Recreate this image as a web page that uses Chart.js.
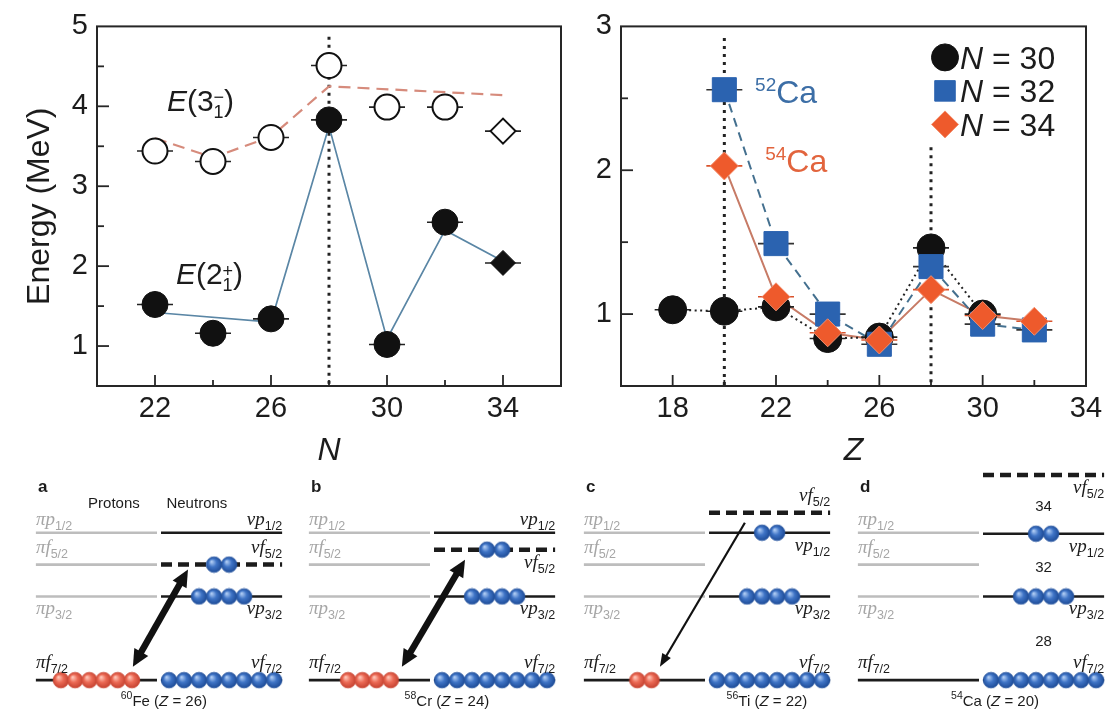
<!DOCTYPE html>
<html>
<head>
<meta charset="utf-8">
<title>Excitation energies and neutron orbitals near 54Ca</title>
<script src="https://cdn.jsdelivr.net/npm/chart.js@4.4.1/dist/chart.umd.min.js"></script>
<style>
  html, body { margin: 0; padding: 0; background: #fff; }
  #figure { position: relative; width: 1109px; height: 721px; overflow: hidden; background: #fff; }
  #figure canvas { position: absolute; }
</style>
</head>
<body>
<div id="figure">
  <canvas id="energyVsN" width="570" height="470" style="left:0;top:0"></canvas>
  <canvas id="energyVsZ" width="549" height="470" style="left:560px;top:0"></canvas>
  <canvas id="levelsA" width="287" height="251" style="left:0;top:470px"></canvas>
  <canvas id="levelsB" width="287" height="251" style="left:273px;top:470px"></canvas>
  <canvas id="levelsC" width="287" height="251" style="left:548px;top:470px"></canvas>
  <canvas id="levelsD" width="287" height="251" style="left:822px;top:470px"></canvas>
</div>
<script>
// ---------- Ca isotopes: first 2+ and 3- energies (MeV) versus neutron number ----------
const caN     = [22, 24, 26, 28, 30, 32];
const caE2    = [1.52, 1.16, 1.34, 3.83, 1.02, 2.55];
const caE3    = [3.44, 3.31, 3.61, 4.51, 3.99, 3.99];
const ca54N   = [34];
const ca54E2  = [2.04];
const ca54E3  = [3.69];
const calcE2N = [22, 26, 28, 30, 32, 34];
const calcE2  = [1.42, 1.30, 3.75, 1.09, 2.45, 2.06];
const calcE3N = [22, 24, 26, 28, 34];
const calcE3  = [3.60, 3.36, 3.62, 4.25, 4.14];
const nTickLabels  = [22, 26, 30, 34];
const eTickLabelsN = [1, 2, 3, 4, 5];
const magicN = [28];

// ---------- first 2+ energies (MeV) versus proton number for N = 30, 32, 34 ----------
const zN30 = [18, 20, 22, 24, 26, 28, 30];
const eN30 = [1.03, 1.02, 1.05, 0.83, 0.84, 1.46, 1.00];
const zN32 = [20, 22, 24, 26, 28, 30, 32];
const eN32 = [2.56, 1.49, 1.00, 0.79, 1.33, 0.93, 0.89];
const zN34 = [20, 22, 24, 26, 28, 30, 32];
const eN34 = [2.03, 1.12, 0.87, 0.82, 1.17, 0.99, 0.95];
const zTickLabels  = [18, 22, 26, 30, 34];
const eTickLabelsZ = [1, 2, 3];
const magicZ = [20, 28];

// ---------- single-particle level schemes ----------
const panelLetters  = ['a', 'b', 'c', 'd'];
const massNumbers   = [60, 58, 56, 54];
const elementNames  = ['Fe', 'Cr', 'Ti', 'Ca'];
const protonNumbers = [26, 24, 22, 20];
const piOrbitals = ['p1/2', 'f5/2', 'p3/2', 'f7/2'];
const piEnergies = [14.8, 11.6, 8.4, 0];
const piF72Count = [6, 4, 2, 0];
const nuP12E = [14.8, 14.8, 14.8, 14.7];
const nuF52E = [11.6, 13.1, 16.8, 20.6];
const nuP32E = [8.4, 8.4, 8.4, 8.4];
const nuF72E = [0, 0, 0, 0];
const nuP12Count = [0, 0, 2, 2];
const nuF52Count = [2, 2, 0, 0];
const nuP32Count = [4, 4, 4, 4];
const nuF72Count = [8, 8, 8, 8];
const shellGaps = [28, 32, 34];

// ---------- look ----------
const SANS  = '"Liberation Sans", Arial, Helvetica, sans-serif';
const SERIF = '"Liberation Serif", "Times New Roman", serif';
const INK = '#1c1c1c';
const GREY = '#bdbdbd';
Chart.defaults.font.family = SANS;
Chart.defaults.color = INK;
Chart.defaults.animation = false;

const xy = (xs, ys) => xs.map((x, i) => ({ x, y: ys[i] }));

// draws a row of text pieces (with optional stacked super/subscripts)
function drawRuns(ctx, x, y, runs, align, color) {
  const widthOf = r => {
    const parts = r.stack || [r];
    return Math.max(...parts.map(s => { ctx.font = s.font; return ctx.measureText(s.t).width; }));
  };
  const widths = runs.map(widthOf);
  const total = widths.reduce((a, b) => a + b, 0);
  let cx = align === 'right' ? x - total : align === 'center' ? x - total / 2 : x;
  ctx.textAlign = 'left';
  ctx.textBaseline = 'alphabetic';
  runs.forEach((r, i) => {
    (r.stack || [r]).forEach(s => {
      ctx.font = s.font;
      ctx.fillStyle = s.color || r.color || color || INK;
      ctx.fillText(s.t, cx, y + (s.dy || 0));
    });
    cx += widths[i];
  });
}

// closed frame with inward tick marks
const boxTicks = {
  id: 'boxTicks',
  beforeDatasetsDraw(chart) {
    const { ctx, chartArea: a } = chart;
    const sx = chart.scales.x, sy = chart.scales.y;
    ctx.save();
    ctx.strokeStyle = '#262626';
    ctx.lineWidth = 2;
    ctx.strokeRect(a.left, a.top, a.right - a.left, a.bottom - a.top);
    ctx.lineWidth = 1.8;
    sx.ticks.forEach(t => {
      if (t.value <= sx.min || t.value >= sx.max) return;
      const p = sx.getPixelForValue(t.value);
      const len = t.label === '' ? 6 : 11;
      ctx.beginPath(); ctx.moveTo(p, a.bottom); ctx.lineTo(p, a.bottom - len); ctx.stroke();
    });
    sy.ticks.forEach(t => {
      if (t.value <= sy.min || t.value >= sy.max) return;
      const p = sy.getPixelForValue(t.value);
      const len = t.label === '' ? 7 : 12;
      ctx.beginPath(); ctx.moveTo(a.left, p); ctx.lineTo(a.left + len, p); ctx.stroke();
    });
    ctx.restore();
  }
};

function axisX(min, max, labels, title, height) {
  return {
    type: 'linear', min, max,
    afterFit: s => { s.height = height; },
    grid: { display: false, drawTicks: false }, border: { display: false },
    ticks: { stepSize: 2, autoSkip: false, maxRotation: 0, padding: 6, font: { size: 29 },
             color: INK, callback: v => labels.includes(v) ? String(v) : '' },
    title: { display: true, text: title, color: INK, font: { size: 32, style: 'italic' }, padding: { top: 0, bottom: 0 } }
  };
}
function axisY(min, max, labels, width, title) {
  return {
    type: 'linear', min, max,
    afterFit: s => { s.width = width; },
    grid: { display: false, drawTicks: false }, border: { display: false },
    ticks: { stepSize: 0.5, autoSkip: false, padding: 9, font: { size: 29 }, color: INK,
             callback: v => labels.includes(v) ? String(v) : '' },
    title: title ? { display: true, text: title, color: INK, font: { size: 32 }, padding: { top: 21, bottom: 0 } }
                 : { display: false }
  };
}

const refLine = (x, top, bottom) => ({
  data: [{ x, y: top }, { x, y: bottom }], showLine: true, pointRadius: 0,
  borderColor: '#222', borderWidth: 3, borderDash: [3, 5], order: 12
});
const curve = (data, color, width, dash) => ({
  data, showLine: true, pointRadius: 0, borderColor: color, borderWidth: width,
  borderDash: dash || [], order: 10
});
const bars = (data, color) => ({
  data, showLine: false, pointStyle: 'line', pointRadius: 18,
  pointBorderColor: color, pointBorderWidth: 1.6, order: 5
});
const marks = (data, style, r, fill, edge, w, order) => ({
  data, showLine: false, pointStyle: style, pointRadius: r,
  pointBackgroundColor: fill, pointBorderColor: edge, pointBorderWidth: w, order
});

const baseOptions = (padding) => ({
  responsive: false, devicePixelRatio: 1, animation: false, events: [],
  layout: { padding, autoPadding: false },
  plugins: { legend: { display: false }, tooltip: { enabled: false } }
});

// ---------- left panel ----------
const annotateN = {
  id: 'annotateN',
  afterDatasetsDraw(chart) {
    const { ctx } = chart, sx = chart.scales.x, sy = chart.scales.y;
    ctx.save();
    const big = `30px ${SANS}`, it = `italic 30px ${SANS}`, small = `18px ${SANS}`;
    drawRuns(ctx, sx.getPixelForValue(22.41), sy.getPixelForValue(3.94), [
      { t: 'E', font: it }, { t: '(3', font: big },
      { stack: [{ t: '\u2212', font: small, dy: -8 }, { t: '1', font: small, dy: 7 }] },
      { t: ')', font: big }], 'left');
    drawRuns(ctx, sx.getPixelForValue(22.72), sy.getPixelForValue(1.78), [
      { t: 'E', font: it }, { t: '(2', font: big },
      { stack: [{ t: '+', font: small, dy: -7 }, { t: '1', font: small, dy: 7 }] },
      { t: ')', font: big }], 'left');
    ctx.restore();
  }
};

new Chart(document.getElementById('energyVsN'), {
  type: 'scatter',
  data: {
    datasets: [
      refLine(magicN[0], 4.87, 0.5),
      curve(xy(calcE3N, calcE3), '#d68b7c', 2.2, [12, 7]),
      curve(xy(calcE2N, calcE2), '#5a86a5', 1.7),
      bars(xy(caN, caE2), '#222'),
      bars(xy(caN, caE3), '#222'),
      bars(xy(ca54N, ca54E2), '#222'),
      bars(xy(ca54N, ca54E3), '#222'),
      marks(xy(caN, caE3), 'circle', 12.5, '#fff', '#111', 2, 1),
      marks(xy(caN, caE2), 'circle', 13, '#111', '#111', 1, 0),
      marks(xy(ca54N, ca54E3), 'rectRot', 12.5, '#fff', '#111', 2, 1),
      marks(xy(ca54N, ca54E2), 'rectRot', 12.5, '#111', '#111', 1, 0)
    ]
  },
  options: Object.assign(baseOptions({ left: 0, top: 19, right: 9, bottom: 0 }), {
    scales: {
      x: axisX(20, 36, nTickLabels, 'N', 84),
      y: axisY(0.5, 5, eTickLabelsN, 97, 'Energy (MeV)')
    }
  }),
  plugins: [boxTicks, annotateN]
});

// ---------- right panel ----------
const annotateZ = {
  id: 'annotateZ',
  afterDatasetsDraw(chart) {
    const { ctx, chartArea: a } = chart, sx = chart.scales.x, sy = chart.scales.y;
    ctx.save();
    drawRuns(ctx, sx.getPixelForValue(21.19), sy.getPixelForValue(2.47), [
      { t: '52', font: `19px ${SANS}`, dy: -12 }, { t: 'Ca', font: `32px ${SANS}` }], 'left', '#3c6ea6');
    drawRuns(ctx, sx.getPixelForValue(21.58), sy.getPixelForValue(1.99), [
      { t: '54', font: `19px ${SANS}`, dy: -12 }, { t: 'Ca', font: `32px ${SANS}` }], 'left', '#e2643d');
    // legend
    chart.data.datasets.filter(d => d.legendText).forEach((d, i) => {
      const cx = a.right - 141, cy = a.top + 31 + i * 33.5;
      ctx.fillStyle = d.pointBackgroundColor;
      ctx.strokeStyle = d.pointBorderColor;
      ctx.lineWidth = 1;
      Chart.helpers.drawPoint(ctx, { pointStyle: d.pointStyle, rotation: 0, radius: d.legendRadius, borderWidth: 1 }, cx, cy);
      drawRuns(ctx, cx + 15, cy + 11.5, [
        { t: 'N', font: `italic 32px ${SANS}` }, { t: ' = ' + d.legendText, font: `32px ${SANS}` }], 'left', INK);
    });
    ctx.restore();
  }
};

const n30 = Object.assign(marks(xy(zN30, eN30), 'circle', 14, '#111', '#111', 1, 2), { legendText: '30', legendRadius: 13.5 });
const n32 = Object.assign(marks(xy(zN32, eN32), 'rect', 17, '#2b63b0', '#2b63b0', 1, 1), { legendText: '32', legendRadius: 14.5 });
const n34 = Object.assign(marks(xy(zN34, eN34), 'rectRot', 14, '#ee5a2c', '#f39070', 1, 0), { legendText: '34', legendRadius: 13.5 });

new Chart(document.getElementById('energyVsZ'), {
  type: 'scatter',
  data: {
    datasets: [
      refLine(magicZ[0], 2.92, 0.5),
      refLine(magicZ[1], 2.16, 0.5),
      curve(xy(zN30, eN30), '#222', 2, [2, 3.5]),
      curve(xy(zN32, eN32), '#44708f', 2, [9, 6]),
      curve(xy(zN34, eN34), '#c77b66', 2),
      bars(xy(zN30, eN30), '#222'),
      bars(xy(zN32, eN32), '#333'),
      bars(xy(zN34, eN34), '#d9532c'),
      n30, n32, n34
    ]
  },
  options: Object.assign(baseOptions({ left: 0, top: 19, right: 23, bottom: 0 }), {
    scales: {
      x: axisX(16, 34, zTickLabels, 'Z', 84),
      y: axisY(0.5, 3, eTickLabelsZ, 61, null)
    }
  }),
  plugins: [boxTicks, annotateZ]
});

// ---------- level schemes ----------
const SPAN_PI = [0.125, 0.547];
const SPAN_NU = [0.561, 0.983];
const PITCH_PI = 0.0495, PITCH_NU = 0.0523;
const RED  = { light: '#ffc6b8', mid: '#ec6a55', dark: '#c23f2e', edge: '#cf4d3a' };
const BLUE = { light: '#aecbf3', mid: '#3f74c6', dark: '#1b4893', edge: '#2a58a2' };
const panelLook = [
  { nuP12Side: 'above', nuF52Side: 'above', caption: 0.571, headings: true,
    arrow: { piX: 0.463, nuX: 0.655, nuDrop: 0.5, both: true, w: 6.5 } },
  { nuP12Side: 'above', nuF52Side: 'below', caption: 0.606,
    arrow: { piX: 0.449, nuX: 0.669, nuDrop: 1.0, both: true, w: 6.5 } },
  { nuP12Side: 'below', nuF52Side: 'above', caption: 0.763,
    arrow: { piX: 0.390, nuX: 0.686, nuDrop: 1.0, both: false, w: 2.2 } },
  { nuP12Side: 'below', nuF52Side: 'below', caption: 0.603, gapLabels: true, arrow: null }
];

// shaded sphere sprite used as the nucleon point style
function sphereSprite(p) {
  const r = 7.8, size = 18;
  const cv = document.createElement('canvas');
  cv.width = size; cv.height = size;
  const g2 = cv.getContext('2d');
  const c = size / 2;
  const g = g2.createRadialGradient(c - 2.5, c - 3, 0.5, c, c, r + 0.5);
  g.addColorStop(0, p.light); g.addColorStop(0.45, p.mid); g.addColorStop(1, p.dark);
  g2.beginPath(); g2.arc(c, c, r, 0, Math.PI * 2);
  g2.fillStyle = g; g2.fill();
  g2.lineWidth = 0.8; g2.strokeStyle = p.edge; g2.stroke();
  return cv;
}
const RED_BALL = sphereSprite(RED);
const BLUE_BALL = sphereSprite(BLUE);

const levelLine = (span, e, color, width, dash) => ({
  data: [{ x: span[0], y: e }, { x: span[1], y: e }], showLine: true, pointRadius: 0,
  borderColor: color, borderWidth: width, borderDash: dash, order: 10, clip: false
});
function nucleons(count, center, pitch, e, sprite) {
  const data = [];
  for (let k = 0; k < count; k++) data.push({ x: center + (k - (count - 1) / 2) * pitch, y: e });
  return { data, showLine: false, pointStyle: sprite, pointRadius: 8, order: 1, clip: false };
}

function drawArrow(ctx, x0, y0, x1, y1, w, both) {
  const ang = Math.atan2(y1 - y0, x1 - x0);
  const L = w > 4 ? 17 : 13, H = w > 4 ? 8 : 5;
  const ux = Math.cos(ang), uy = Math.sin(ang);
  const head = (tx, ty, dir) => {
    const bx = tx - dir * ux * L, by = ty - dir * uy * L;
    ctx.beginPath();
    ctx.moveTo(tx, ty);
    ctx.lineTo(bx - uy * H, by + ux * H);
    ctx.lineTo(bx + uy * H, by - ux * H);
    ctx.closePath(); ctx.fill();
  };
  const sx = both ? x0 + ux * (L - 2) : x0, sy = both ? y0 + uy * (L - 2) : y0;
  ctx.beginPath();
  ctx.moveTo(sx, sy);
  ctx.lineTo(x1 - ux * (L - 2), y1 - uy * (L - 2));
  ctx.lineWidth = w; ctx.stroke();
  head(x1, y1, 1);
  if (both) head(x0, y0, -1);
}

function levelLabel(orbital, greek) {
  const [l, j] = [orbital[0], orbital.slice(1)];
  return [
    { t: greek, font: `italic 19px ${SERIF}` },
    { t: l, font: `italic 19px ${SERIF}` },
    { t: j, font: `12.5px ${SANS}`, dy: 5 }
  ];
}
const labelBase = (py, side, orbital) =>
  side === 'below' ? py + 18 : py - (orbital[0] === 'f' ? 12 : 8);

function buildLevelPanel(id, i) {
  const look = panelLook[i];
  const piMid = (SPAN_PI[0] + SPAN_PI[1]) / 2;
  const nuMid = (SPAN_NU[0] + SPAN_NU[1]) / 2;
  const piF72E = piEnergies[piOrbitals.indexOf('f7/2')];
  const nuLevels = [
    { orb: 'p1/2', e: nuP12E[i], n: nuP12Count[i], side: look.nuP12Side },
    { orb: 'f5/2', e: nuF52E[i], n: nuF52Count[i], side: look.nuF52Side, dashed: true },
    { orb: 'p3/2', e: nuP32E[i], n: nuP32Count[i], side: 'below' },
    { orb: 'f7/2', e: nuF72E[i], n: nuF72Count[i], side: 'above' }
  ];
  const piSides = { 'p1/2': 'above', 'f5/2': 'above', 'p3/2': 'below', 'f7/2': 'above' };

  const datasets = [];
  piOrbitals.forEach((orb, k) =>
    datasets.push(levelLine(SPAN_PI, piEnergies[k], orb === 'f7/2' ? INK : GREY, 2.6, [])));
  nuLevels.forEach(l =>
    datasets.push(levelLine(SPAN_NU, l.e, INK, l.dashed ? 4.5 : 2.6, l.dashed ? [11, 6] : [])));
  if (piF72Count[i]) datasets.push(nucleons(piF72Count[i], piMid, PITCH_PI, piF72E, RED_BALL));
  nuLevels.forEach(l => { if (l.n) datasets.push(nucleons(l.n, nuMid, PITCH_NU, l.e, BLUE_BALL)); });

  const texts = {
    id: 'levelText' + i,
    afterDatasetsDraw(chart) {
      const { ctx, chartArea: a } = chart, sx = chart.scales.x, sy = chart.scales.y;
      ctx.save();
      // orbital labels
      piOrbitals.forEach((orb, k) => {
        const py = sy.getPixelForValue(piEnergies[k]);
        drawRuns(ctx, sx.getPixelForValue(SPAN_PI[0]), labelBase(py, piSides[orb], orb),
                 levelLabel(orb, '\u03c0'), 'left', orb === 'f7/2' ? INK : '#a6a6a6');
      });
      nuLevels.forEach(l => {
        const py = sy.getPixelForValue(l.e);
        drawRuns(ctx, sx.getPixelForValue(SPAN_NU[1]), labelBase(py, l.side, l.orb),
                 levelLabel(l.orb, '\u03bd'), 'right', INK);
      });
      // panel letter
      ctx.font = `bold 17px ${SANS}`; ctx.fillStyle = INK; ctx.textAlign = 'left';
      ctx.fillText(panelLetters[i], sx.getPixelForValue(SPAN_PI[0]) + 2, a.top + 22);
      if (look.headings) {
        ctx.font = `15px ${SANS}`; ctx.textAlign = 'center';
        ctx.fillText('Protons', sx.getPixelForValue(0.397), a.top + 38);
        ctx.fillText('Neutrons', sx.getPixelForValue(0.686), a.top + 38);
      }
      // magic-number gaps between the neutron orbitals
      if (look.gapLabels) {
        const order = nuLevels.slice().sort((p, q) => p.e - q.e);
        shellGaps.forEach((g, k) => {
          const lo = order[k].e, hi = order[k + 1].e;
          ctx.font = `15px ${SANS}`; ctx.textAlign = 'center'; ctx.textBaseline = 'middle';
          ctx.fillStyle = INK;
          ctx.fillText(String(g), sx.getPixelForValue(nuMid), sy.getPixelForValue(lo + 0.46 * (hi - lo)));
        });
        ctx.textBaseline = 'alphabetic';
      }
      // nucleus caption
      drawRuns(ctx, sx.getPixelForValue(look.caption), a.bottom - 15, [
        { t: String(massNumbers[i]), font: `10.5px ${SANS}`, dy: -7 },
        { t: elementNames[i] + ' (', font: `15px ${SANS}` },
        { t: 'Z', font: `italic 15px ${SANS}` },
        { t: ' = ' + protonNumbers[i] + ')', font: `15px ${SANS}` }], 'center', INK);
      // proton-neutron excitation arrow
      if (look.arrow) {
        const ar = look.arrow;
        const nuF52 = nuLevels[1].e;
        const px = sx.getPixelForValue(ar.piX), py = sy.getPixelForValue(piF72E + 1.35);
        const nx = sx.getPixelForValue(ar.nuX), ny = sy.getPixelForValue(nuF52 - ar.nuDrop);
        ctx.fillStyle = '#111'; ctx.strokeStyle = '#111'; ctx.lineCap = 'butt';
        drawArrow(ctx, nx, ny, px, py, ar.w, ar.both);
      }
      ctx.restore();
    }
  };

  new Chart(document.getElementById(id), {
    type: 'scatter',
    data: { datasets },
    options: Object.assign(baseOptions(0), {
      scales: {
        x: { type: 'linear', min: 0, max: 1, display: false },
        y: { type: 'linear', min: -4.1, max: 21.1, display: false }
      }
    }),
    plugins: [texts]
  });
}

['levelsA', 'levelsB', 'levelsC', 'levelsD'].forEach(buildLevelPanel);
</script>
</body>
</html>
